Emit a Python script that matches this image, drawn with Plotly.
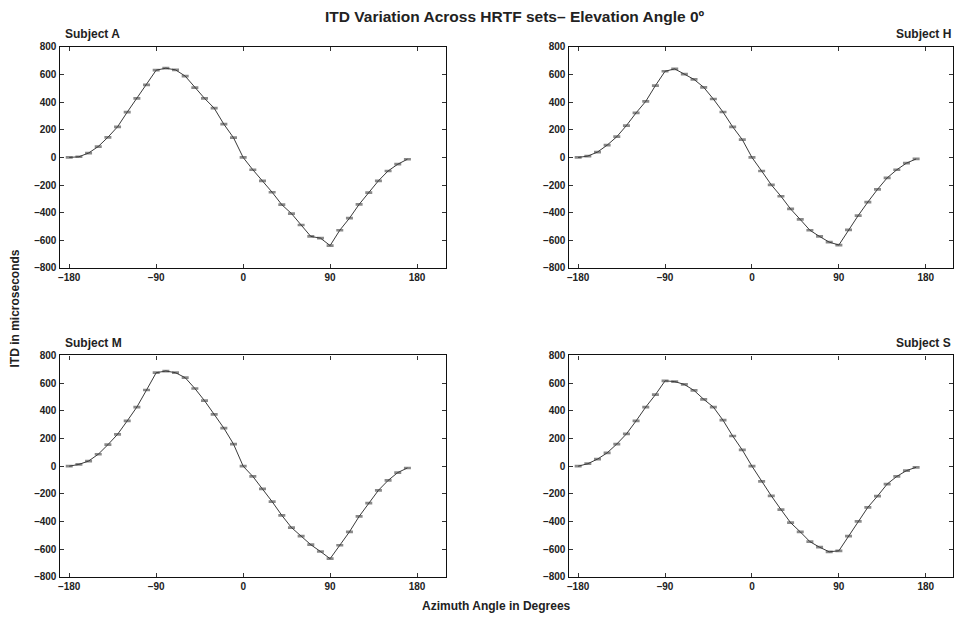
import plotly.graph_objects as go

azimuth = list(range(-180, 180, 10))

itd_A = [0, 5, 32, 79, 146, 222, 328, 428, 525, 632, 646, 634, 589, 506, 428, 357, 241, 143,
         0, -89, -169, -252, -342, -406, -489, -572, -584, -638, -527, -440, -340, -255, -169, -98, -49, -13]
itd_H = [0, 10, 39, 89, 150, 231, 323, 406, 520, 624, 641, 603, 565, 508, 423, 329, 222, 129,
         0, -98, -198, -281, -373, -449, -527, -572, -613, -634, -525, -421, -323, -231, -148, -89, -41, -11]
itd_M = [0, 13, 37, 86, 155, 230, 327, 427, 550, 675, 687, 675, 639, 561, 473, 374, 275, 160,
         0, -74, -164, -256, -355, -443, -505, -567, -616, -668, -571, -474, -363, -266, -174, -103, -46, -13]
itd_S = [0, 18, 51, 96, 160, 233, 327, 427, 516, 616, 611, 590, 547, 483, 427, 332, 218, 117,
         0, -110, -214, -313, -408, -474, -545, -585, -618, -611, -505, -398, -297, -216, -129, -74, -32, -8]
itd_err = [4] * len(azimuth)

subjects = ["Subject A", "Subject H", "Subject M", "Subject S"]
series = [itd_A, itd_H, itd_M, itd_S]

x_ticks = [-180, -90, 0, 90, 180]
y_ticks = [-800, -600, -400, -200, 0, 200, 400, 600, 800]


def lab(v):
    return str(v).replace("-", "\u2013")


W, H = 954, 621
FONT = "Liberation Sans"

# pixel boxes (left, right, top, bottom)
boxes = [
    (58.7, 446.0, 42.7, 267.7),
    (568.7, 954.0, 42.7, 267.7),
    (58.7, 446.0, 356.7, 582.3),
    (568.7, 954.0, 356.7, 582.3),
]
x_ranges = [[-190, 210], [-190, 208.2], [-190, 210], [-190, 208.2]]

fig = go.Figure()
layout = dict(
    width=W, height=H,
    margin=dict(l=0, r=0, t=0, b=0),
    paper_bgcolor="white", plot_bgcolor="white",
    showlegend=False,
    font=dict(family=FONT, color="#222"),
)

annotations = []
for i, (name, vals) in enumerate(zip(subjects, series)):
    n = i + 1
    xa = "x" if n == 1 else f"x{n}"
    ya = "y" if n == 1 else f"y{n}"
    fig.add_trace(go.Scatter(
        x=azimuth, y=vals, mode="lines",
        line=dict(color="#3a3a3a", width=1),
        error_y=dict(type="data", array=itd_err, visible=True,
                     color="#8a8a8a", thickness=1.6, width=3.5),
        xaxis=xa, yaxis=ya, hoverinfo="x+y",
    ))
    l, r, t, b = boxes[i]
    common = dict(
        showline=True, linecolor="#111", linewidth=1.3, mirror="ticks",
        ticks="inside", ticklen=4, tickcolor="#333", tickwidth=1,
        showgrid=False, zeroline=False,
        tickfont=dict(family=FONT, size=10, color="#222", weight="bold"),
        fixedrange=True,
    )
    layout["xaxis" if n == 1 else f"xaxis{n}"] = dict(
        common, domain=[l / W, r / W], range=x_ranges[i],
        tickvals=x_ticks, ticktext=[lab(v) for v in x_ticks],
        anchor=ya,
    )
    layout["yaxis" if n == 1 else f"yaxis{n}"] = dict(
        common, domain=[1 - b / H, 1 - t / H], range=[-800, 800],
        tickvals=y_ticks, ticktext=[lab(v) for v in y_ticks],
        anchor=xa,
    )
    if i % 2 == 0:
        annotations.append(dict(
            text=f"<b>{name}</b>", x=(l + 3.5) / W, y=1 - (t - 13) / H,
            xref="paper", yref="paper", xanchor="left", yanchor="middle",
            showarrow=False, font=dict(family=FONT, size=12, color="#222"),
        ))
    else:
        annotations.append(dict(
            text=f"<b>{name}</b>", x=954 / W, y=1 - (t - 13) / H,
            xref="paper", yref="paper", xanchor="right", yanchor="middle",
            showarrow=False, font=dict(family=FONT, size=12, color="#222"),
        ))

annotations.append(dict(
    text="<b>ITD Variation Across HRTF sets\u2013 Elevation Angle 0\u00ba</b>",
    x=515 / W, y=1 - 12 / H, xref="paper", yref="paper",
    xanchor="center", yanchor="middle", showarrow=False,
    font=dict(family=FONT, size=15.5, color="#222"),
))
annotations.append(dict(
    text="<b>Azimuth Angle in Degrees</b>",
    x=497 / W, y=1 - 612 / H, xref="paper", yref="paper",
    xanchor="center", yanchor="middle", showarrow=False,
    font=dict(family=FONT, size=12, color="#222"),
))
annotations.append(dict(
    text="<b>ITD in microseconds</b>",
    x=14 / W, y=1 - 309 / H, xref="paper", yref="paper",
    xanchor="center", yanchor="middle", showarrow=False, textangle=-90,
    font=dict(family=FONT, size=12, color="#222"),
))
layout["annotations"] = annotations
fig.update_layout(**layout)
fig.write_html(
    "out.html",
    config={"displayModeBar": False},
    post_script="document.body.style.margin='0px';document.body.style.overflow='hidden';",
)
